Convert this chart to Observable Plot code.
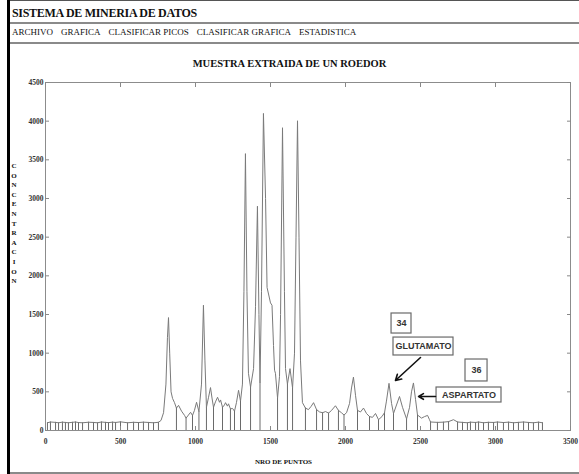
<!DOCTYPE html>
<html><head><meta charset="utf-8">
<script src="https://cdn.jsdelivr.net/npm/d3@7"></script>
<script src="https://cdn.jsdelivr.net/npm/@observablehq/plot@0.6"></script>
<style>
body{margin:0;background:#fff;}
#win{position:relative;width:579px;height:474px;overflow:hidden;font-family:"Liberation Serif",serif;color:#111;background:#fff;}
.ov{position:absolute;z-index:2;}
.hr{position:absolute;left:9px;right:0;height:2px;background:#8a8a8a;z-index:2;}
#lbar{position:absolute;left:7px;top:0;width:3px;height:474px;background:#000;z-index:3;}
#tbar{position:absolute;left:7px;top:0;right:0;height:1px;background:#555;z-index:3;}
#apptitle{left:12px;top:6px;font-weight:bold;font-size:12px;letter-spacing:-0.3px;white-space:nowrap;}
#menu{left:12px;top:27px;font-size:9px;white-space:nowrap;}
#menu span{margin-right:8px;}
#charttitle{left:0;width:579px;text-align:center;top:58px;font-weight:bold;font-size:10.5px;}
#ylabel{left:9px;width:10px;top:162px;font-weight:bold;font-size:7px;line-height:9.6px;text-align:center;}
#xlabel{left:0;width:567px;text-align:center;top:458px;font-weight:bold;font-size:7px;}
#chart{position:absolute;left:0;top:44px;z-index:1;}
</style></head><body>
<div id="win">
  <div id="tbar"></div>
  <div id="lbar"></div>
  <div id="apptitle" class="ov">SISTEMA DE MINERIA DE DATOS</div>
  <div class="hr" style="top:22px"></div>
  <div id="menu" class="ov"></div>
  <div class="hr" style="top:42px"></div>
  <div id="chart"></div>
  <div id="charttitle" class="ov">MUESTRA EXTRAIDA DE UN ROEDOR</div>
  <div id="ylabel" class="ov"></div>
  <div id="xlabel" class="ov">NRO DE PUNTOS</div>
  <div class="hr" style="top:472px"></div>
</div>
<script>
// ---- texts ----
const menuItems = ["ARCHIVO", "GRAFICA", "CLASIFICAR PICOS", "CLASIFICAR GRAFICA", "ESTADISTICA"];
const yAxisTitle = "CONCENTRACION";

// ---- axes ----
const xTicks = [0, 500, 1000, 1500, 2000, 2500, 3000, 3500];
const yTicks = [0, 500, 1000, 1500, 2000, 2500, 3000, 3500, 4000, 4500];

// ---- signal (x = nro de punto, y = concentracion) ----
const pointX = [13, 33, 67, 87, 113, 133, 153, 180, 200, 220, 247, 287, 320, 347, 373, 400, 420, 447, 467, 500, 547, 587, 620, 653, 687, 720, 753,
  770, 787, 803, 813, 820, 828, 837, 847, 860, 873, 887, 907, 927, 937, 953, 967, 980, 993, 1007, 1023, 1040, 1053, 1063, 1073,
  1087, 1100, 1110, 1120, 1133, 1147, 1160, 1167, 1180, 1193, 1200, 1213, 1220, 1233, 1247, 1260, 1273, 1287, 1300,
  1313, 1323, 1333, 1343, 1353, 1367, 1387, 1400, 1413, 1423, 1430, 1440, 1453, 1467, 1477, 1500, 1510, 1520, 1527, 1533, 1547,
  1560, 1567, 1580, 1593, 1600, 1613, 1630, 1647, 1660, 1670, 1680, 1690, 1700, 1713, 1733, 1753, 1770, 1787, 1807,
  1827, 1847, 1867, 1887, 1907, 1933, 1953, 1973, 1990, 2007, 2027, 2040, 2053, 2067, 2080, 2100, 2120, 2140, 2160,
  2180, 2200, 2220, 2243, 2260, 2273, 2290, 2307, 2320, 2340, 2360, 2380, 2407, 2427, 2440, 2453, 2467, 2480,
  2507, 2527, 2547, 2560, 2567, 2613, 2653, 2687, 2720, 2747, 2780, 2813, 2833, 2867, 2887, 2920, 2953, 2987, 3013,
  3053, 3087, 3120, 3153, 3187, 3220, 3253, 3287, 3313];
const pointY = [100, 110, 105, 100, 108, 104, 100, 106, 110, 103, 100, 107, 104, 100, 110, 105, 102, 108, 104, 112, 100, 106, 103, 108, 104, 100, 106,
  130, 230, 600, 1200, 1460, 1000, 500, 415, 360, 290, 325, 250, 195, 160, 200, 235, 195, 260, 365, 245, 600, 1620, 900, 300,
  430, 555, 420, 300, 370, 430, 365, 395, 300, 330, 360, 315, 345, 280, 285, 250, 360, 520, 380,
  600, 1800, 3580, 1800, 740, 560, 800, 1600, 2900, 1500, 620, 1800, 4100, 3000, 1850, 1650, 1620, 1100, 780, 740, 420,
  700, 1500, 3915, 1800, 800, 600, 800, 550, 1000, 2500, 4005, 2500, 900, 360, 290, 270, 310, 360, 270,
  240, 230, 245, 225, 260, 320, 260, 230, 200, 230, 350, 550, 690, 450, 260, 240, 290, 220, 180,
  170, 220, 140, 180, 230, 380, 610, 350, 220, 330, 440, 300, 150, 300, 500, 615, 400, 200,
  160, 180, 195, 140, 110, 105, 108, 115, 140, 110, 105, 100, 108, 104, 110, 100, 106, 104, 110,
  103, 108, 100, 105, 110, 104, 100, 108, 100];
// points where a vertical segment is dropped to zero
const dropX = [13, 33, 67, 87, 113, 133, 153, 180, 200, 220, 247, 287, 320, 347, 373, 400, 420, 447, 467, 500, 547, 587, 620, 653, 687, 720, 753,
  873, 937, 980, 1023, 1073, 1120, 1180, 1233, 1260, 1300, 1367, 1430, 1547, 1613, 1647, 1733, 1807, 1847, 1887, 1953, 1990,
  2080, 2160, 2220, 2260, 2320, 2407, 2480, 2567, 2613, 2653, 2687, 2747, 2780, 2813, 2833, 2867, 2887, 2920, 2953, 2987, 3013,
  3053, 3087, 3120, 3153, 3187, 3220, 3253, 3287, 3313];

// ---- annotations ----
const annLabels = ["34", "GLUTAMATO", "36", "ASPARTATO"];
const annX1 = [2307, 2320, 2800, 2607];
const annX2 = [2440, 2720, 2947, 3040];
const annY1 = [1254, 970, 634, 362];
const annY2 = [1513, 1202, 918, 556];
const arrowFromX = [2500, 2600], arrowFromY = [944, 440];
const arrowToX = [2333, 2487], arrowToY = [647, 440];

// ---- build ----
document.getElementById("menu").innerHTML = menuItems.map(m => `<span>${m}</span>`).join("");
document.getElementById("ylabel").innerHTML = yAxisTitle.split("").join("<br>");

const signal = pointX.map((x, i) => ({x, y: pointY[i]}));
const yAt = new Map(signal.map(d => [d.x, d.y]));
const drops = dropX.map(x => ({x, y: yAt.get(x)}));
const boxes = annLabels.map((label, i) => ({label, x1: annX1[i], x2: annX2[i], y1: annY1[i], y2: annY2[i]}));
const arrows = arrowFromX.map((x, i) => ({x1: x, y1: arrowFromY[i], x2: arrowToX[i], y2: arrowToY[i]}));

const fmt = d => String(d);
const axisFont = {fontFamily: "Liberation Serif", fontSize: 7.5, fontWeight: "bold", fill: "#333"};
const plot = Plot.plot({
  width: 579, height: 428,
  marginLeft: 45, marginRight: 9, marginTop: 38, marginBottom: 42,
  x: {domain: [0, 3500]},
  y: {domain: [0, 4500]},
  style: {fontFamily: "Liberation Serif", fontSize: "8px", color: "#333", background: "transparent"},
  marks: [
    Plot.ruleX(drops, {x: "x", y1: d => 0, y2: "y", stroke: "#6a6a6a", strokeWidth: 1}),
    Plot.line(signal, {x: "x", y: "y", stroke: "#7a7a7a", strokeWidth: 1}),
    Plot.frame({stroke: "#8c8c8c"}),
    Plot.axisY(yTicks, {anchor: "left", tickSize: -4, tickPadding: 6, tickFormat: fmt, label: null, stroke: "#888", ...axisFont}),
    Plot.axisY(yTicks, {anchor: "right", tickSize: -4, tickFormat: () => "", label: null, stroke: "#888"}),
    Plot.axisX(xTicks, {anchor: "bottom", tickSize: -4, tickPadding: 12, tickFormat: fmt, label: null, stroke: "#888", ...axisFont}),
    Plot.axisX(xTicks, {anchor: "top", tickSize: -4, tickFormat: () => "", label: null, stroke: "#888"}),
    Plot.rect(boxes, {x1: "x1", x2: "x2", y1: "y1", y2: "y2", fill: "white", stroke: "#6a6a6a", strokeWidth: 1.2}),
    Plot.text(boxes, {x: d => (d.x1 + d.x2) / 2, y: d => (d.y1 + d.y2) / 2, text: "label",
      fontFamily: "Liberation Sans", fontSize: 9, fontWeight: "bold", fill: "#333"}),
    Plot.arrow(arrows, {x1: "x1", y1: "y1", x2: "x2", y2: "y2", stroke: "#111", strokeWidth: 1.6, headLength: 6, bend: 0})
  ]
});
document.getElementById("chart").appendChild(plot);
</script>
</body></html>
